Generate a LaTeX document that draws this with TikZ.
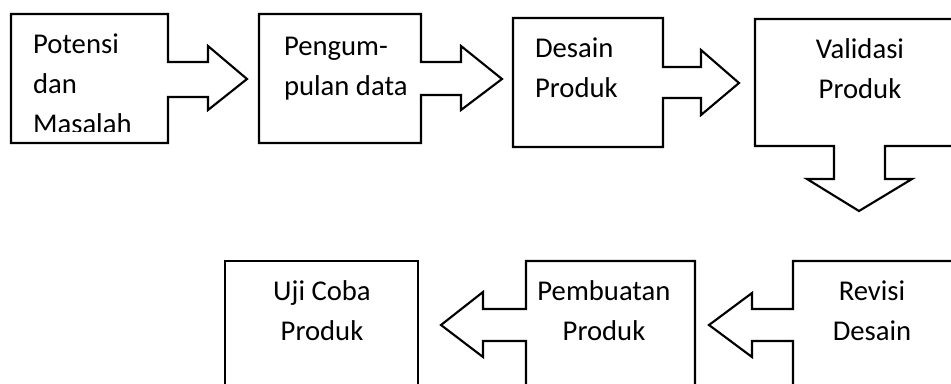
\documentclass[tikz,border=0pt]{standalone}
\usepackage{fontspec}
\setmainfont{Carlito}

\tikzset{every picture/.style={line width=1.6pt}}
\tikzset{lbl/.style={inner sep=0pt, font=\fontsize{21.5}{30}\selectfont}}

\begin{document}
\begin{tikzpicture}[x=0.75pt,y=0.75pt,yscale=-1,xscale=1]
	\useasboundingbox (0,0) rectangle (951,383);
	\clip (0,0) rectangle (951,383);

	%Shape: Right Arrow Callout [id:potensi]
	\draw   (11,14) -- (168,14) -- (168,62) -- (208,62) -- (208,46) -- (247,79) -- (208,110) -- (208,97) -- (168,97) -- (168,143) -- (11,143) -- cycle ;
	%Shape: Right Arrow Callout [id:pengumpulan]
	\draw   (259,14) -- (421,14) -- (421,62) -- (461,62) -- (461,46) -- (502,79) -- (461,110) -- (461,95) -- (421,95) -- (421,143) -- (259,143) -- cycle ;
	%Shape: Right Arrow Callout [id:desain]
	\draw   (513,18) -- (663,18) -- (663,67) -- (701,67) -- (701,50) -- (739,83) -- (701,115) -- (701,98) -- (663,98) -- (663,147) -- (513,147) -- cycle ;
	%Shape: Down Arrow Callout [id:validasi]
	\draw   (755,19) -- (965,19) -- (965,146) -- (885,146) -- (885,179) -- (912,179) -- (859,211) -- (807,179) -- (834,179) -- (834,146) -- (755,146) -- cycle ;
	%Shape: Left Arrow Callout [id:revisi]
	\draw   (793,261) -- (965,261) -- (965,395) -- (793,395) -- (793,341) -- (752,341) -- (752,357) -- (709,325) -- (752,293) -- (752,309) -- (793,309) -- cycle ;
	%Shape: Left Arrow Callout [id:pembuatan]
	\draw   (526,261) -- (695,261) -- (695,395) -- (526,395) -- (526,341) -- (483,341) -- (483,357) -- (441,325) -- (483,292) -- (483,309) -- (526,309) -- cycle ;
	%Shape: Rectangle [id:ujicoba]
	\draw   (225,261) -- (418,261) -- (418,395) -- (225,395) -- cycle ;

	% Text Node
	\begin{scope}
	\clip (11,14) rectangle (168,131);
	\draw (32,133) node [lbl, anchor=base west, align=left] (tpotensi) {Potensi\\dan\\Masalah};
	\end{scope}
	% Text Node
	\draw (283,95) node [lbl, anchor=base west, align=left] (tpengumpulan) {Pengum-\\pulan data};
	% Text Node
	\draw (534,97) node [lbl, anchor=base west, align=left] (tdesain) {Desain\\Produk};
	% Text Node
	\draw (860,98) node [lbl, anchor=base, align=center] (tvalidasi) {Validasi\\Produk};
	% Text Node
	\draw (872,340) node [lbl, anchor=base, align=center] (trevisi) {Revisi\\Desain};
	% Text Node
	\draw (604,340) node [lbl, anchor=base, align=center] (tpembuatan) {Pembuatan\\Produk};
	% Text Node
	\draw (322,340) node [lbl, anchor=base, align=center] (tujicoba) {Uji Coba\\Produk};

\end{tikzpicture}
\end{document}
